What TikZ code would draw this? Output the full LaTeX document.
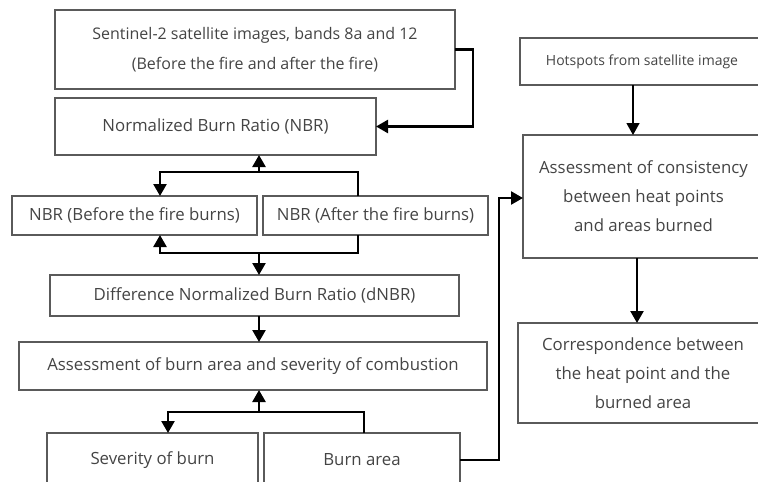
\documentclass[tikz,border=0pt]{standalone}
\usepackage{fontspec}
\setmainfont{Open Sans}
\usetikzlibrary{arrows.meta,positioning,calc}
\definecolor{boxgray}{HTML}{5A5A5A}
\definecolor{textgray}{HTML}{444444}

\begin{document}
\begin{tikzpicture}[x=0.5pt,y=-0.5pt,
        block/.style={draw=boxgray,line width=0.75pt,rectangle,outer sep=0pt,inner sep=0pt,
          align=center,text=textgray,font=\fontsize{8.4}{14.5}\selectfont},
        link/.style={line width=1.2pt,-{Triangle[length=6pt,width=6.5pt]}},
        thinlink/.style={line width=0.7pt,-{Triangle[length=6pt,width=6.5pt]}}]
   \useasboundingbox (0,0) rectangle (758,481);
   \clip (0,0) rectangle (758,481);

   % left column
   \node (S) [block,minimum width=200pt,minimum height=39.5pt,font=\fontsize{8}{15}\selectfont] at (255,49.5)
      {Sentinel-2 satellite images, bands 8a and 12\\(Before the fire and after the fire)};
   \node (N) [block,minimum width=160.5pt,minimum height=28.5pt] at (215.5,126.5) {Normalized Burn Ratio (NBR)};
   \node (B) [block,minimum width=122.5pt,minimum height=19.5pt] at (134.5,215.5) {NBR (Before the fire burns)};
   \node (A) [block,minimum width=112.5pt,minimum height=19.5pt,right=3pt of B] {NBR (After the fire burns)};
   \node (D) [block,minimum width=204.5pt,minimum height=20.5pt] at (254.5,295.5) {Difference Normalized Burn Ratio (dNBR)};
   \node (E) [block,minimum width=234pt,minimum height=24pt] at (253,366) {Assessment of burn area and severity of combustion};
   \node (V) [block,minimum width=105.5pt,minimum height=27pt] at (152.5,460) {Severity of burn};
   \node (R) [block,minimum width=98pt,minimum height=27pt,right=3pt of V] {Burn area};

   % right column
   \node (H) [block,minimum width=122pt,minimum height=23.5pt,font=\fontsize{7}{12}\selectfont] at (642,61.5) {Hotspots from satellite image};
   \node (C) [block,minimum width=120.5pt,minimum height=61.5pt] at (643.5,196.5)
      {Assessment of consistency\\between heat points\\and areas burned};
   \node (K) [block,minimum width=125pt,minimum height=50pt] at (643,373)
      {Correspondence between\\the heat point and the\\burned area};

   \coordinate (j1) at (259,172);
   \coordinate (a1) at (358,172);
   \coordinate (b1) at (160,172);
   \coordinate (j2) at (259,253);
   \coordinate (a2) at (358,253);
   \coordinate (b2) at (160,253);
   \coordinate (j3) at (259,412);
   \coordinate (a3) at (364,412);
   \coordinate (b3) at (168,412);
   \coordinate (c1) at (499,198);
   \coordinate (h1) at (633,0);
   \coordinate (k1) at (637,0);

   \draw[link] (S.east) -- ++(9pt,0) |- (N.east);
   \draw[link] (a1 |- A.north) -- (a1) -- (b1) -- (b1 |- B.north);
   \draw[link] (j1) -- (j1 |- N.south);
   \draw[link] (a2 |- A.south) -- (a2) -- (b2) -- (b2 |- B.south);
   \draw[link] (j2) -- (j2 |- D.north);
   \draw[link] (j2 |- D.south) -- (j2 |- E.north);
   \draw[link] (a3 |- R.north) -- (a3) -- (b3) -- (b3 |- V.north);
   \draw[link] (j3) -- (j3 |- E.south);
   \draw[link] (R.east) -| (c1) -- (c1 -| C.west);
   \draw[thinlink] (h1 |- H.south) -- (h1 |- C.north);
   \draw[link] (k1 |- C.south) -- (k1 |- K.north);

\end{tikzpicture}
\end{document}
